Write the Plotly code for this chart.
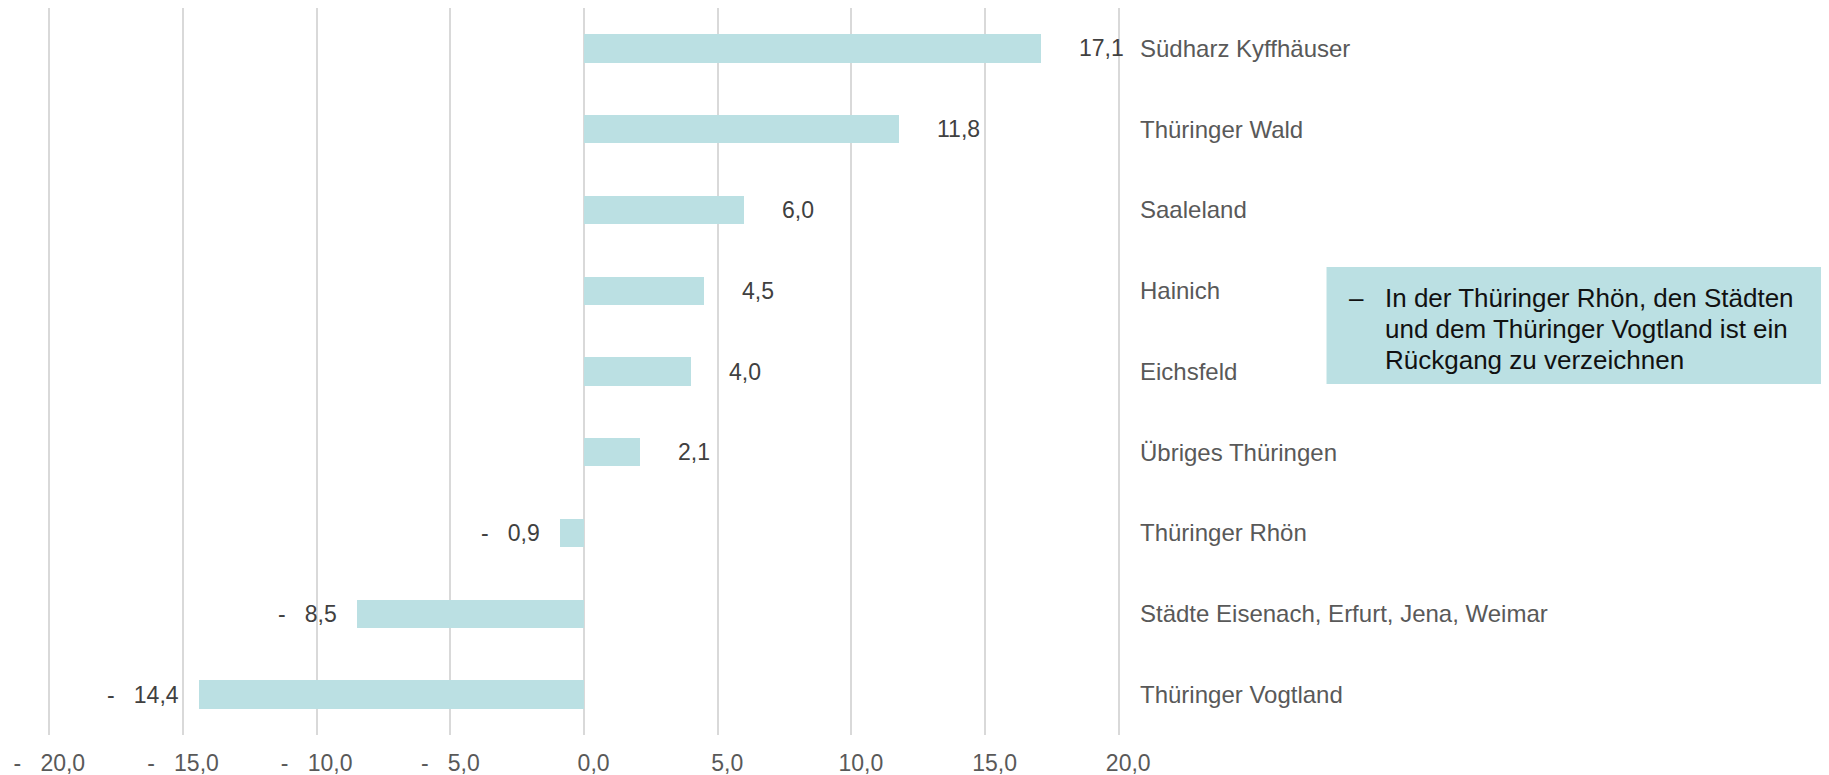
import plotly.graph_objects as go

regions = ["Südharz Kyffhäuser", "Thüringer Wald", "Saaleland", "Hainich", "Eichsfeld",
           "Übriges Thüringen", "Thüringer Rhön", "Städte Eisenach, Erfurt, Jena, Weimar",
           "Thüringer Vogtland"]
change = [17.1, 11.8, 6.0, 4.5, 4.0, 2.1, -0.9, -8.5, -14.4]
tick_vals = [-20, -15, -10, -5, 0, 5, 10, 15, 20]
note_lines = ["In der Thüringer Rhön, den Städten",
              "und dem Thüringer Vogtland ist ein",
              "Rückgang zu verzeichnen"]

NB = "\u00a0"
BAR = "#BBE0E3"
FONT = "Liberation Sans, Arial, sans-serif"


def fmt(v, pad_pos, pad_neg):
    # accounting style: "-   8,5"
    s = f"{abs(v):.1f}".replace(".", ",")
    if v < 0:
        return "-" + NB * pad_neg + s
    return NB * pad_pos + s


tick_text = [fmt(v, 3, 3) for v in tick_vals]

fig = go.Figure(go.Bar(
    x=change, y=regions, orientation="h", width=0.35,
    marker=dict(color=BAR, line_width=0),
))

# data labels next to the bar ends
for r, v in zip(regions, change):
    fig.add_annotation(
        x=v, y=r, xref="x", yref="y", text=fmt(v, 0, 3), showarrow=False,
        xanchor="left" if v >= 0 else "right", xshift=36 if v >= 0 else -18,
        font=dict(family=FONT, size=23, color="#404040"),
    )

# layout in pixels -> paper coords
L, R, T, B = 35.65, 712.65, 0, 48
W, H = 1829, 775
pw, ph = W - L - R, H - T - B


def px(x):
    return (x - L) / pw


def py(y):
    return (H - B - y) / ph


# note box on the right
fig.add_shape(type="rect", xref="paper", yref="paper",
              x0=px(1319), x1=px(1840), y0=py(376), y1=py(259),
              fillcolor=BAR, line_width=0, layer="above")
fig.add_annotation(xref="paper", yref="paper", x=px(1339), y=py(290.5), text="–",
                   showarrow=False, xanchor="left", yanchor="middle",
                   font=dict(family=FONT, size=26, color="#111111"))
for i, line in enumerate(note_lines):
    fig.add_annotation(xref="paper", yref="paper", x=px(1376), y=py(290.5 + 30.5 * i),
                       text=line, showarrow=False, xanchor="left", yanchor="middle",
                       font=dict(family=FONT, size=26, color="#111111"))

fig.update_xaxes(
    range=[-20.2, 20.2], tickvals=tick_vals, ticktext=tick_text,
    showgrid=True, gridcolor="#D9D9D9", gridwidth=2,
    zeroline=True, zerolinecolor="#D9D9D9", zerolinewidth=2,
    showline=False, ticks="", ticklabelstandoff=12,
    tickfont=dict(family=FONT, size=23, color="#595959"),
)
fig.update_yaxes(
    autorange="reversed", side="right", showgrid=False, zeroline=False,
    showline=False, ticks="", ticklabelstandoff=15,
    tickfont=dict(family=FONT, size=24, color="#595959"),
)
fig.update_layout(
    width=W, height=H, margin=dict(l=L, r=R, t=T, b=B, autoexpand=False),
    plot_bgcolor="white", paper_bgcolor="white", showlegend=False,
    bargap=0,
)

fig.write_html("out.html")
